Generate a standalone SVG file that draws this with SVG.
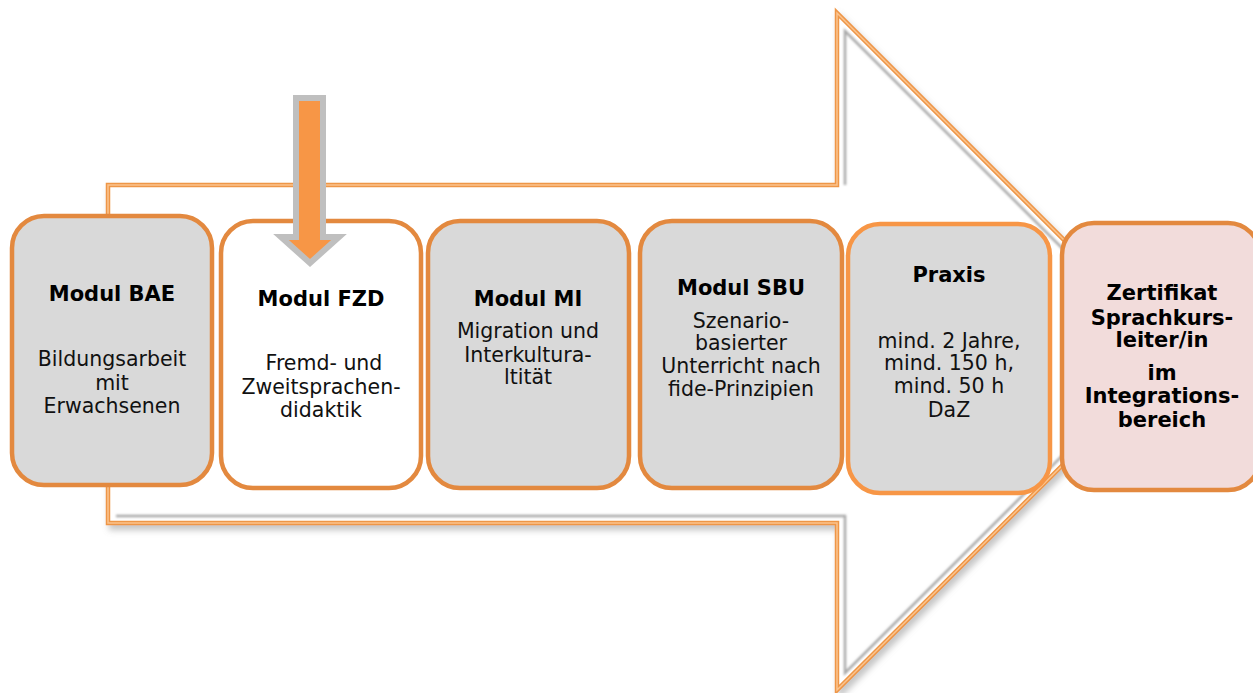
<svg xmlns="http://www.w3.org/2000/svg" width="1253" height="693" viewBox="0 0 1253 693">
<defs>
<filter id="sh" x="-10%" y="-10%" width="120%" height="120%">
<feDropShadow dx="3" dy="5" stdDeviation="3" flood-color="#808080" flood-opacity="0.45"/>
</filter>
<filter id="blur1"><feGaussianBlur stdDeviation="1"/></filter>
<style>
.box{stroke:#e3893f;stroke-width:4.5}
.gray{fill:#d9d9d9}
.t{font-family:"DejaVu Sans",Verdana,sans-serif;font-size:20.5px;fill:#111;text-anchor:middle}
.b{font-weight:bold;font-size:21px;fill:#000}
</style>
</defs>
<rect width="1253" height="693" fill="#fff"/>
<g id="big-arrow">
<polygon points="108,185 837,185 837,13 1176,352 837,690 837,523 108,523" fill="#fff" stroke="#ee9646" stroke-width="4.5" filter="url(#sh)"/>
<polygon points="108,185 837,185 837,13 1176,352 837,690 837,523 108,523" fill="none" stroke="#fbc48f" stroke-width="1.5"/>
<polyline points="116,523 116,193 116,193" fill="none" stroke="#b0b0b0" stroke-width="2.5" filter="url(#blur1)"/>
<polyline points="845,185 845,31 1166,352 845,673 845,516 116,516" fill="none" stroke="#a8a8a8" stroke-width="2.5" filter="url(#blur1)"/>
</g>
<g id="node-bae">
<rect class="box gray" x="12" y="216" width="200" height="269" rx="32"/>
<text class="t b" x="112" y="301">Modul BAE</text>
<text class="t" x="112" y="366">Bildungsarbeit</text>
<text class="t" x="112" y="390">mit</text>
<text class="t" x="112" y="413">Erwachsenen</text>
</g>
<g id="node-fzd">
<rect class="box" fill="#fff" x="221" y="221" width="200" height="267" rx="32"/>
<text class="t b" x="321" y="306">Modul FZD</text>
<text class="t" x="324" y="370">Fremd- und</text>
<text class="t" x="321" y="394">Zweitsprachen-</text>
<text class="t" x="321" y="417">didaktik</text>
</g>
<g id="node-mi">
<rect class="box gray" x="428" y="221" width="201" height="267" rx="32"/>
<text class="t b" x="528" y="306">Modul MI</text>
<text class="t" x="528" y="338">Migration und</text>
<text class="t" x="528" y="362">Interkultura-</text>
<text class="t" x="528" y="384">ltität</text>
</g>
<g id="node-sbu">
<rect class="box gray" x="640" y="221" width="202" height="267" rx="32"/>
<text class="t b" x="741" y="295">Modul SBU</text>
<text class="t" x="741" y="328">Szenario-</text>
<text class="t" x="741" y="350">basierter</text>
<text class="t" x="741" y="373">Unterricht nach</text>
<text class="t" x="741" y="396">fide-Prinzipien</text>
</g>
<g id="node-praxis">
<rect class="gray" x="848" y="224" width="202" height="269" rx="32" stroke="#f79646" stroke-width="4.5"/>
<text class="t b" x="949" y="282">Praxis</text>
<text class="t" x="949" y="348">mind. 2 Jahre,</text>
<text class="t" x="949" y="370">mind. 150 h,</text>
<text class="t" x="949" y="393">mind. 50 h</text>
<text class="t" x="949" y="417">DaZ</text>
</g>
<g id="node-zertifikat">
<rect class="box" fill="#f2dcdb" x="1062" y="223" width="198" height="267" rx="32"/>
<text class="t b" x="1162" y="300">Zertifikat</text>
<text class="t b" x="1162" y="325">Sprachkurs-</text>
<text class="t b" x="1162" y="347">leiter/in</text>
<text class="t b" x="1162" y="380">im</text>
<text class="t b" x="1162" y="403">Integrations-</text>
<text class="t b" x="1162" y="427">bereich</text>
</g>
<g id="connectors">
<polygon points="296,98 323,98 323,237 339,237 310,263 281,237 296,237" fill="#f79646" stroke="#bfbfbf" stroke-width="6" stroke-linejoin="miter"/>
</g>
</svg>
